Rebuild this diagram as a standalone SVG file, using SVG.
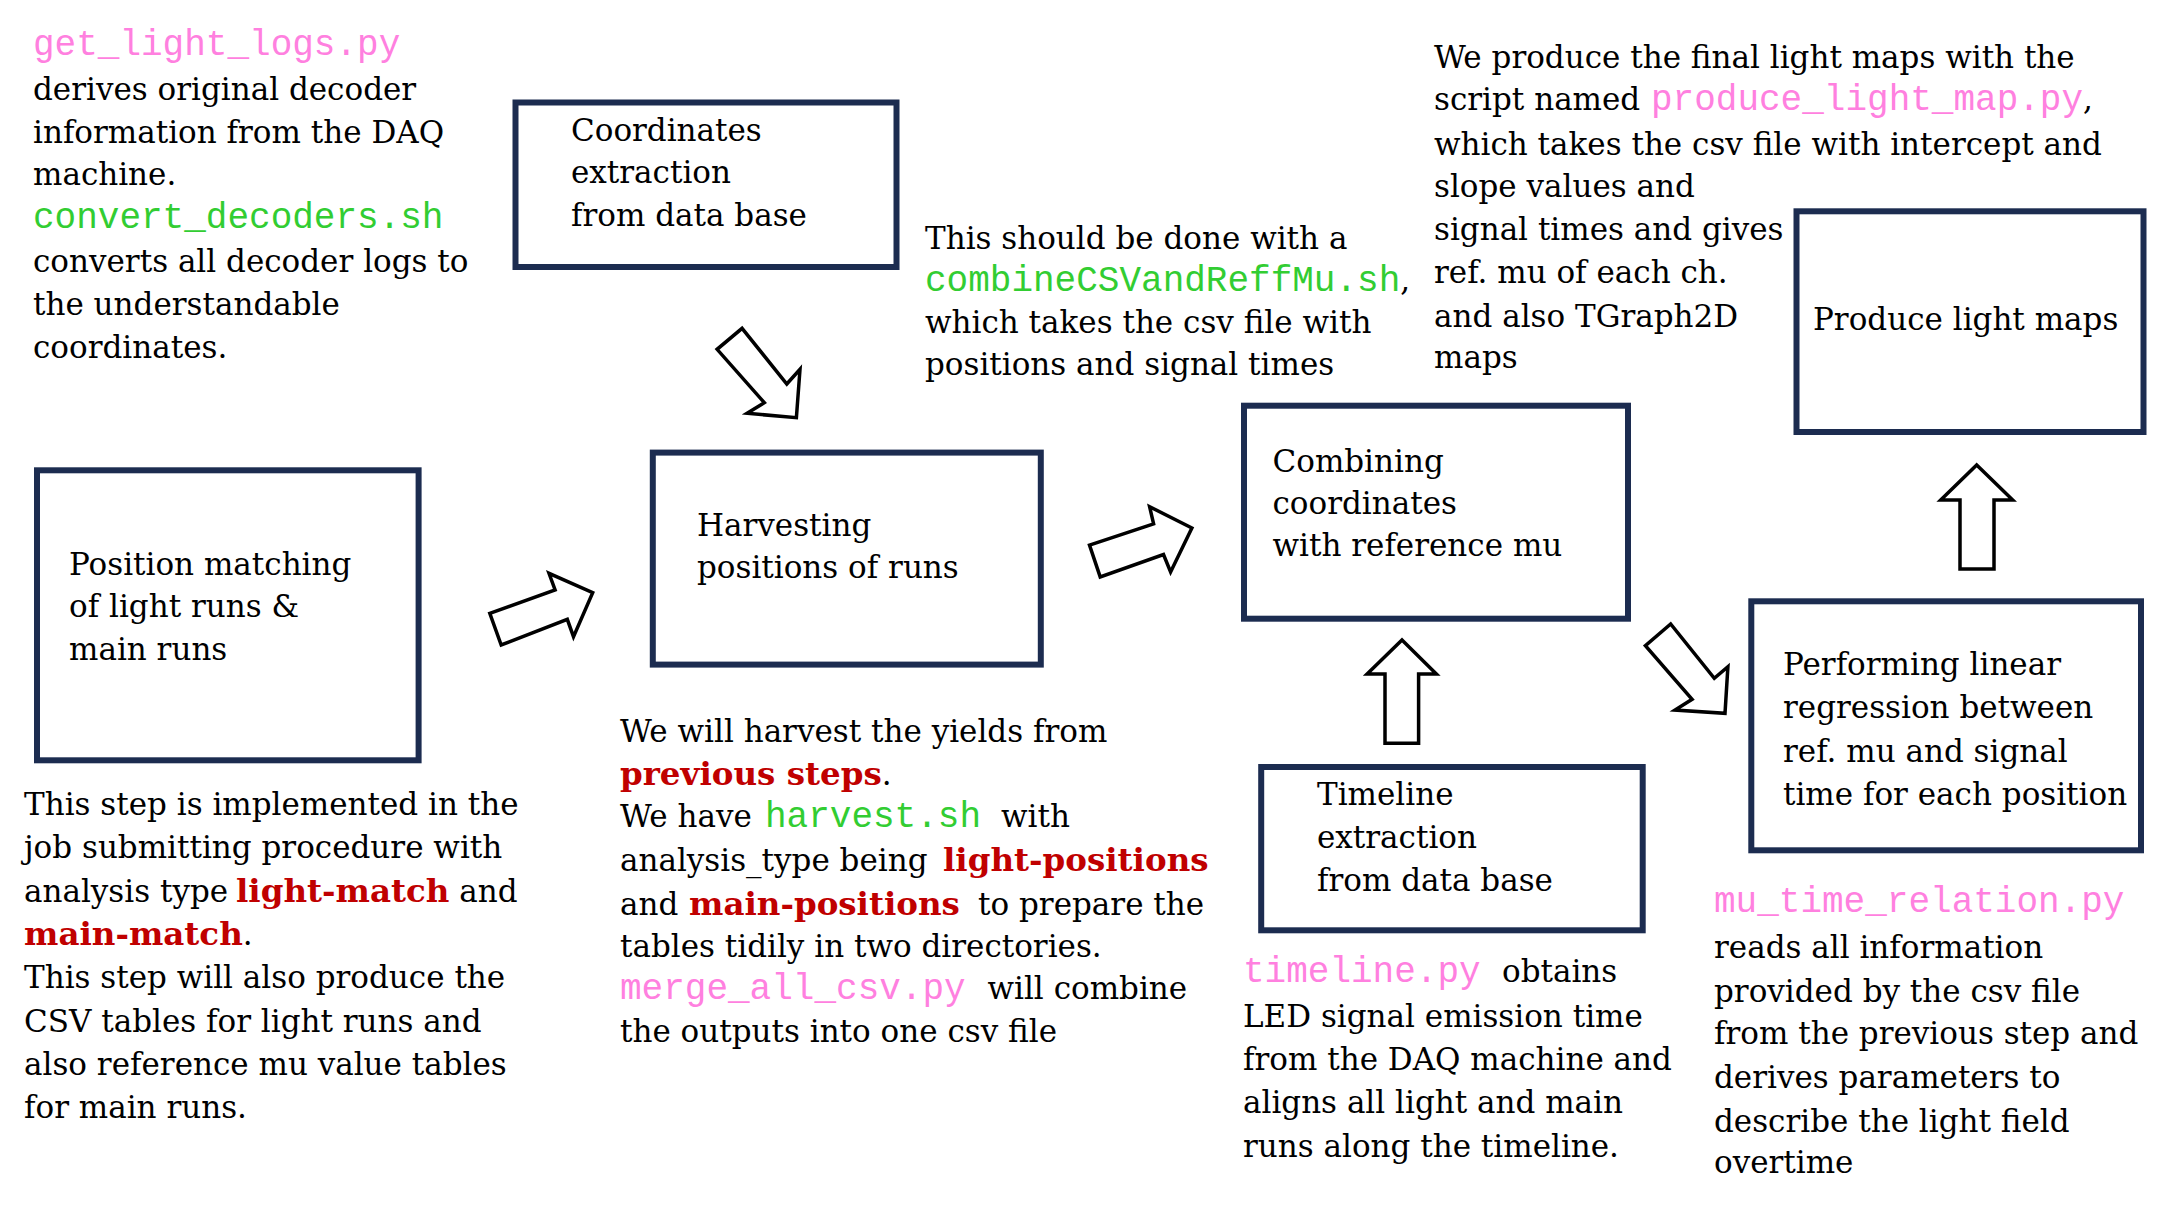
<svg xmlns="http://www.w3.org/2000/svg" width="2160" height="1215" viewBox="0 0 2160 1215">
<style>
text { font-family: "DejaVu Serif", "Liberation Serif", serif; font-size: 31px; fill: #000; }
.m { font-family: "Liberation Mono", "DejaVu Sans Mono", monospace; font-size: 36px; }
.pink { fill: #ff80df; }
.green { fill: #32cd32; }
.red { fill: #c00000; font-weight: bold; font-size: 32.5px; }
.box { fill: #fff; stroke: #1c2c50; stroke-width: 6; }
.arrow { fill: #fff; stroke: #000; stroke-width: 3.5; stroke-linejoin: miter; }
</style>
<rect width="2160" height="1215" fill="#fff"/>

<g id="connectors">
  <polygon class="arrow" points="742.1,328.3 786.8,384 800,369.3 796.4,417.7 747.1,413.3 764.3,402.7 717.1,349.3"/>
  <polygon class="arrow" points="489.8,613.3 555.1,590 549,573.3 592.7,592.7 573.5,636.7 567.3,619.3 501.2,645"/>
  <polygon class="arrow" points="1089.5,545.1 1153.6,523.9 1149.6,506.7 1191.9,528 1170.6,572 1163.5,554.5 1100.2,576.9"/>
  <polygon class="arrow" points="1402,640 1436.4,674 1418.6,674 1418.6,743.3 1385,743.3 1385,674 1367.1,674"/>
  <polygon class="arrow" points="1670.7,624 1714.3,678.3 1727.9,666.7 1725,713.3 1675,710 1692.1,699.3 1645.4,645.7"/>
  <polygon class="arrow" points="1976.7,465 2012.7,500 1994,500 1994,569 1960,569 1960,500 1940.7,500"/>
</g>

<g id="node-coordinates">
  <rect class="box" x="515.5" y="102.5" width="381" height="164.5"/>
  <text x="571" y="141">Coordinates</text>
  <text x="571" y="183">extraction</text>
  <text x="571" y="226">from data base</text>
</g>

<g id="node-harvesting">
  <rect class="box" x="652.8" y="452.6" width="388" height="212"/>
  <text x="697" y="536">Harvesting</text>
  <text x="697" y="578">positions of runs</text>
</g>

<g id="node-position-matching">
  <rect class="box" x="37" y="470.3" width="381.6" height="290"/>
  <text x="69" y="575">Position matching</text>
  <text x="69" y="617">of light runs &amp;</text>
  <text x="69" y="660">main runs</text>
</g>

<g id="node-combining">
  <rect class="box" x="1244" y="405.7" width="384" height="213"/>
  <text x="1272.5" y="472">Combining</text>
  <text x="1272.5" y="514">coordinates</text>
  <text x="1272.5" y="556">with reference mu</text>
</g>

<g id="node-timeline">
  <rect class="box" x="1261.2" y="767" width="381.5" height="163.3"/>
  <text x="1317" y="805">Timeline</text>
  <text x="1317" y="848">extraction</text>
  <text x="1317" y="891">from data base</text>
</g>

<g id="node-regression">
  <rect class="box" x="1751.3" y="601.3" width="389.7" height="249"/>
  <text x="1783" y="675">Performing linear</text>
  <text x="1783" y="718">regression between</text>
  <text x="1783" y="762">ref. mu and signal</text>
  <text x="1783" y="805">time for each position</text>
</g>

<g id="node-light-maps">
  <rect class="box" x="1796.5" y="211.3" width="347" height="220.7"/>
  <text x="1813" y="330">Produce light maps</text>
</g>

<g id="note-decoders">
  <text class="m pink" x="33" y="55">get_light_logs.py</text>
  <text x="33" y="100">derives original decoder</text>
  <text x="33" y="143">information from the DAQ</text>
  <text x="33" y="185">machine.</text>
  <text class="m green" x="33" y="228">convert_decoders.sh</text>
  <text x="33" y="272">converts all decoder logs to</text>
  <text x="33" y="315">the understandable</text>
  <text x="33" y="358">coordinates.</text>
</g>

<g id="note-combine">
  <text x="925" y="249">This should be done with a</text>
  <text x="925" y="291"><tspan class="m green">combineCSVandReffMu.sh</tspan>,</text>
  <text x="925" y="333">which takes the csv file with</text>
  <text x="925" y="375">positions and signal times</text>
</g>

<g id="note-light-maps">
  <text x="1434" y="68">We produce the final light maps with the</text>
  <text x="1434" y="110">script named <tspan class="m pink" x="1651">produce_light_map.py</tspan>,</text>
  <text x="1434" y="155">which takes the csv file with intercept and</text>
  <text x="1434" y="197">slope values and</text>
  <text x="1434" y="240">signal times and gives</text>
  <text x="1434" y="283">ref. mu of each ch.</text>
  <text x="1434" y="327">and also TGraph2D</text>
  <text x="1434" y="368">maps</text>
</g>

<g id="note-position-matching">
  <text x="24" y="815">This step is implemented in the</text>
  <text x="24" y="858">job submitting procedure with</text>
  <text x="24" y="902">analysis type <tspan class="red" x="236">light-match</tspan> and</text>
  <text x="24" y="945"><tspan class="red">main-match</tspan>.</text>
  <text x="24" y="988">This step will also produce the</text>
  <text x="24" y="1032">CSV tables for light runs and</text>
  <text x="24" y="1075">also reference mu value tables</text>
  <text x="24" y="1118">for main runs.</text>
</g>

<g id="note-harvesting">
  <text x="620" y="742">We will harvest the yields from</text>
  <text x="620" y="785"><tspan class="red">previous steps</tspan>.</text>
  <text x="620" y="827">We have <tspan class="m green" x="765">harvest.sh</tspan><tspan x="1001">with</tspan></text>
  <text x="620" y="871">analysis_type being <tspan class="red" x="943">light-positions</tspan></text>
  <text x="620" y="915">and <tspan class="red" x="689">main-positions</tspan><tspan x="978">to prepare the</tspan></text>
  <text x="620" y="957">tables tidily in two directories.</text>
  <text x="620" y="999"><tspan class="m pink">merge_all_csv.py</tspan><tspan x="987.5">will combine</tspan></text>
  <text x="620" y="1042">the outputs into one csv file</text>
</g>

<g id="note-timeline">
  <text x="1243" y="982"><tspan class="m pink">timeline.py</tspan><tspan x="1502">obtains</tspan></text>
  <text x="1243" y="1027">LED signal emission time</text>
  <text x="1243" y="1070">from the DAQ machine and</text>
  <text x="1243" y="1113">aligns all light and main</text>
  <text x="1243" y="1157">runs along the timeline.</text>
</g>

<g id="note-regression">
  <text class="m pink" x="1714" y="912">mu_time_relation.py</text>
  <text x="1714" y="958">reads all information</text>
  <text x="1714" y="1002">provided by the csv file</text>
  <text x="1714" y="1044">from the previous step and</text>
  <text x="1714" y="1088">derives parameters to</text>
  <text x="1714" y="1132">describe the light field</text>
  <text x="1714" y="1173">overtime</text>
</g>
</svg>
